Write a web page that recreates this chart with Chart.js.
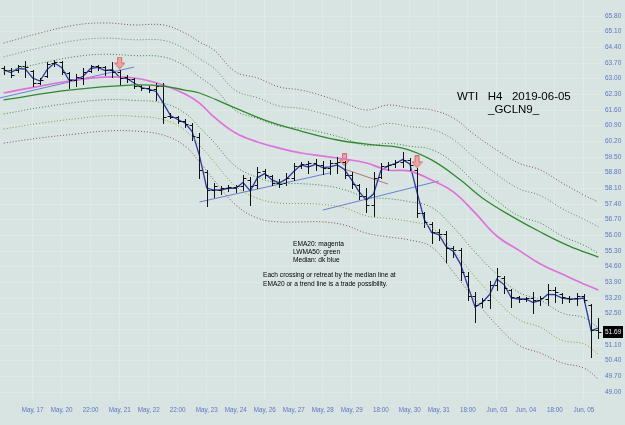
<!DOCTYPE html>
<html><head><meta charset="utf-8">
<script src="https://cdn.jsdelivr.net/npm/chart.js@4.4.1/dist/chart.umd.min.js"></script>
<style>html,body{margin:0;padding:0;background:#d8e4e1;}canvas{display:block;}</style>
</head><body>
<canvas id="c" width="625" height="425"></canvas>
<script>
// ---- data ----
const xTickIndex = [4,8,12,16,20,24,28,32,36,40,44,48,52,56,60,64,68,72,76,80];
const xTickLabels = ["May, 17","May, 20","22:00","May, 21","May, 22","22:00","May, 23","May, 24","May, 26","May, 27","May, 28","May, 29","18:00","May, 30","May, 31","18:00","Jun, 03","Jun, 04","18:00","Jun, 05"];
const yTicks = [49.00,49.70,50.40,51.10,51.80,52.50,53.20,53.90,54.60,55.30,56.00,56.70,57.40,58.10,58.80,59.50,60.20,60.90,61.60,62.30,63.00,63.70,64.40,65.10,65.80];

const opens  = [63.48,63.39,63.39,63.57,63.34,62.81,63.12,63.70,63.74,63.25,62.94,63.03,63.34,63.57,63.52,63.39,63.30,63.07,62.99,62.67,62.58,62.54,62.67,61.33,61.29,61.11,60.93,60.39,58.83,58.03,58.03,58.11,58.16,58.20,58.47,58.25,58.87,58.65,58.34,58.34,58.56,59.10,59.19,59.23,59.14,59.01,59.23,59.28,58.70,58.25,57.76,57.36,58.61,59.10,59.19,59.28,59.37,58.92,57.00,56.51,56.15,56.06,55.43,55.34,54.18,53.29,52.98,53.11,53.78,54.09,53.56,53.24,53.16,53.20,53.11,53.16,53.56,53.38,53.20,53.20,53.29,52.89,51.77];
const highs  = [63.57,63.48,63.61,63.79,63.39,63.03,63.74,63.83,63.79,63.30,63.21,63.48,63.61,63.61,63.57,63.74,63.39,63.16,63.03,62.72,62.67,62.81,62.81,61.47,61.33,61.20,61.02,60.57,58.92,58.34,58.20,58.25,58.25,58.70,58.61,59.05,58.96,58.70,58.52,58.79,59.23,59.28,59.32,59.41,59.32,59.37,59.50,59.32,58.83,58.29,58.11,58.83,59.23,59.28,59.37,59.72,59.46,59.01,57.04,56.60,56.28,56.19,55.52,55.43,54.36,53.47,53.20,53.96,54.54,54.18,53.60,53.29,53.24,53.47,53.29,53.83,53.69,53.42,53.29,53.42,53.38,52.93,52.31];
const lows   = [63.21,63.07,63.30,63.07,62.67,62.76,63.07,63.57,63.21,62.58,62.67,62.76,63.30,63.39,63.16,63.07,62.72,62.85,62.58,62.49,62.40,62.05,61.02,61.24,61.02,60.84,60.26,58.56,57.31,57.71,57.85,57.98,57.94,58.03,57.36,58.11,58.56,58.25,58.16,58.25,58.47,59.01,58.79,58.92,58.74,58.74,58.79,58.56,58.11,57.62,57.04,56.86,58.56,58.92,59.05,59.05,58.92,56.82,56.37,55.66,55.79,54.81,55.03,54.00,53.11,52.13,52.80,52.75,53.56,53.42,52.80,53.02,53.07,52.53,52.89,52.89,53.02,52.98,53.02,52.89,53.02,50.56,51.41];
const closes = [63.39,63.16,63.57,63.52,62.81,62.94,63.66,63.74,63.30,62.94,63.07,63.30,63.57,63.52,63.39,63.30,63.03,62.99,62.67,62.58,62.49,62.67,61.29,61.29,61.11,60.97,60.44,58.92,58.03,58.20,58.11,58.16,58.20,58.56,58.20,58.83,58.70,58.34,58.29,58.56,59.10,59.19,59.23,59.14,59.01,59.23,59.28,58.70,58.29,57.76,57.36,58.56,59.10,59.14,59.28,59.37,59.14,57.00,56.60,56.15,56.06,55.43,55.34,54.36,53.29,52.89,53.11,53.78,54.18,53.65,53.24,53.16,53.20,53.11,53.20,53.56,53.47,53.24,53.16,53.29,53.11,51.77,51.69];

const bandIndex  = [0,5,10,14,18,22,25,27,29,32,35,38,41,44,47,50,53,56,59,62,65,68,71,74,77,80,82];
const ema20      = [62.36,62.67,62.94,63.07,63.03,62.72,62.31,61.91,61.29,60.57,60.17,59.90,59.68,59.54,59.41,59.23,58.92,58.87,58.47,57.94,57.00,55.97,55.34,54.72,54.27,53.83,53.56];
const upperOuter = [64.59,65.04,65.40,65.49,65.40,65.40,65.04,64.64,64.28,63.30,63.03,62.63,62.49,62.23,61.91,61.60,61.82,61.69,61.60,61.24,60.48,59.81,59.23,58.92,58.34,57.80,57.49];
const upperMid   = [63.97,64.38,64.71,64.81,64.74,64.71,64.33,63.89,63.47,62.47,62.15,61.78,61.67,61.44,61.15,60.83,61.00,60.86,60.74,60.28,59.45,58.72,58.09,57.78,57.19,56.72,56.38];
const upperInner = [63.30,63.68,63.99,64.09,64.03,63.97,63.57,63.08,62.60,61.57,61.22,60.88,60.78,60.59,60.33,60.01,60.11,59.98,59.83,59.25,58.35,57.55,56.87,56.55,55.97,55.56,55.20];
const lowerInner = [61.42,61.71,61.94,62.06,62.03,61.91,61.46,60.83,60.16,59.08,58.59,58.34,58.31,58.23,58.04,57.70,57.64,57.50,57.25,56.36,55.25,54.26,53.46,53.11,52.53,52.32,51.87];
const lowerMid   = [60.75,61.01,61.21,61.34,61.32,61.17,60.70,60.03,59.29,58.19,57.65,57.44,57.42,57.38,57.23,56.87,56.75,56.62,56.34,55.33,54.14,53.09,52.24,51.89,51.31,51.15,50.69];
const lowerOuter = [60.12,60.35,60.53,60.66,60.66,60.48,59.99,59.28,58.47,57.36,56.77,56.60,56.60,56.60,56.46,56.10,55.93,55.79,55.48,54.36,53.11,51.99,51.10,50.74,50.30,50.07,49.58];

const lwmaIndex = [0,9,18,22,25,27,31,36,41,46,51,55,59,63,66,70,74,78,82];
const lwma50    = [62.05,62.49,62.72,62.67,62.49,62.36,61.82,61.15,60.66,60.26,60.04,59.90,59.37,58.47,57.67,56.86,56.15,55.52,55.03];

const trendLine1 = [[-0.5,62.14],[18,63.52]];
const trendLine2 = [[27,57.49],[45,58.79]];
const trendLine3 = [[44,57.13],[60,58.43]];
const trendLine4 = [[47,58.96],[53,58.29]];

const arrowIndex = [16,47,57];
const arrowPrice = [63.70,59.37,59.28];
const lastPrice = 51.69;

const titleText = "WTI   H4   2019-06-05";
const symbolText = "_GCLN9_";
const legendLines = ["EMA20: magenta","LWMA50: green","Median: dk blue"];
const noteLines = ["Each crossing or retreat by the median line at","EMA20 or a trend line is a trade possibility."];

// ---- helpers ----
const pts = (ix, vals) => ix.map((v,k)=>({x:v,y:vals[k]}));
const medianPts = highs.map((h,i)=>({x:i,y:(h+lows[i])/2}));
const tl = a => a.map(p=>({x:p[0],y:p[1]}));

function makeArrow(){
  const c=document.createElement('canvas'); c.width=11; c.height=13;
  const g=c.getContext('2d');
  g.beginPath(); g.moveTo(3.5,0.5); g.lineTo(7.5,0.5); g.lineTo(7.5,6.5); g.lineTo(10.5,6.5); g.lineTo(5.5,12.5); g.lineTo(0.5,6.5); g.lineTo(3.5,6.5); g.closePath();
  g.fillStyle='#f3a2a2'; g.fill(); g.strokeStyle='#c87070'; g.lineWidth=1; g.stroke();
  return c;
}
const arrowImg = makeArrow();

const FONT = "'Liberation Sans', Arial, sans-serif";
Chart.defaults.font.family = FONT;

const band = (data,color)=>({type:'line',data,borderColor:color,borderWidth:1,borderDash:[1,2],pointRadius:0,tension:0.4,fill:false});
const EMA_DS = 7;

const bgPlugin = {id:'bg', beforeDraw(chart){const c=chart.ctx;c.save();c.fillStyle='#d8e4e1';c.fillRect(0,0,chart.width,chart.height);c.restore();}};

const ohlcPlugin = {
  id:'ohlc',
  afterDatasetDraw(chart,args){
    if(args.index!==EMA_DS) return;
    const ctx=chart.ctx, x=chart.scales.x, y=chart.scales.y;
    ctx.save(); ctx.strokeStyle='#111'; ctx.lineWidth=1; ctx.beginPath();
    for(let i=0;i<opens.length;i++){
      const px=Math.round(x.getPixelForValue(i))+0.5;
      const yh=Math.round(y.getPixelForValue(highs[i])), yl=Math.round(y.getPixelForValue(lows[i]));
      const yo=Math.round(y.getPixelForValue(opens[i]))+0.5, yc=Math.round(y.getPixelForValue(closes[i]))+0.5;
      ctx.moveTo(px,yh); ctx.lineTo(px,yl+1);
      ctx.moveTo(px-3,yo); ctx.lineTo(px,yo);
      ctx.moveTo(px,yc); ctx.lineTo(px+3,yc);
    }
    ctx.stroke(); ctx.restore();
  }
};

const textPlugin = {
  id:'texts',
  afterDraw(chart){
    const ctx=chart.ctx, y=chart.scales.y;
    ctx.save();
    ctx.fillStyle='#000'; ctx.textBaseline='middle'; ctx.textAlign='left';
    ctx.font='11.5px '+FONT;
    ctx.fillText(titleText,457,97);
    ctx.fillText(symbolText,488,110);
    ctx.font='6.6px '+FONT;
    legendLines.forEach((t,k)=>ctx.fillText(t,293,244+k*8));
    noteLines.forEach((t,k)=>ctx.fillText(t,263,275+k*9.5));
    const py=Math.round(y.getPixelForValue(lastPrice));
    ctx.fillStyle='#000'; ctx.fillRect(603,py-6,20,12);
    ctx.fillStyle='#f0f0f0'; ctx.font='6.5px '+FONT; ctx.fillText(lastPrice.toFixed(2),605,py+0.5);
    ctx.restore();
  }
};

new Chart(document.getElementById('c'),{
  data:{datasets:[
    band(pts(bandIndex,upperOuter),'#8a5252'),
    band(pts(bandIndex,upperMid),'#6f8a62'),
    band(pts(bandIndex,upperInner),'#3c8a3c'),
    band(pts(bandIndex,lowerInner),'#3c8a3c'),
    band(pts(bandIndex,lowerMid),'#8d9a3c'),
    band(pts(bandIndex,lowerOuter),'#8a5252'),
    {type:'line',data:pts(lwmaIndex,lwma50),borderColor:'#2f8a2f',borderWidth:1.3,pointRadius:0,tension:0.4},
    {type:'line',data:pts(bandIndex,ema20),borderColor:'#e070dc',borderWidth:1.7,pointRadius:0,tension:0.4},
    {type:'line',data:medianPts,borderColor:'#2a3aa8',borderWidth:1.3,pointRadius:0,tension:0},
    {type:'line',data:tl(trendLine1),borderColor:'#6c7fd8',borderWidth:1,pointRadius:0},
    {type:'line',data:tl(trendLine2),borderColor:'#6c7fd8',borderWidth:1,pointRadius:0},
    {type:'line',data:tl(trendLine3),borderColor:'#6c7fd8',borderWidth:1,pointRadius:0},
    {type:'line',data:tl(trendLine4),borderColor:'#b07878',borderWidth:1,pointRadius:0},
    {type:'scatter',data:pts(arrowIndex,arrowPrice),pointStyle:arrowImg,pointRadius:6,showLine:false}
  ]},
  options:{
    responsive:false, animation:false, devicePixelRatio:1,
    layout:{padding:0,autoPadding:false},
    plugins:{legend:{display:false},tooltip:{enabled:false}},
    scales:{
      x:{type:'linear',min:-0.5,max:82.5,
        afterBuildTicks(s){s.ticks=xTickIndex.map(v=>({value:v}));},
        afterFit(s){s.height=25;s.paddingLeft=0;s.paddingRight=0;},
        ticks:{autoSkip:false,maxRotation:0,padding:6,color:'#5c76c6',font:{size:6.3},callback:(v,k)=>xTickLabels[k]},
        grid:{color:'rgba(238,246,244,0.35)',drawTicks:false},border:{display:false}},
      y:{type:'linear',position:'right',min:48.643,max:66.515,
        afterBuildTicks(s){s.ticks=yTicks.map(v=>({value:v}));},
        afterFit(s){s.width=23;s.paddingTop=0;s.paddingBottom=0;},
        ticks:{padding:3,color:'#5c76c6',font:{size:6.5},callback:v=>v.toFixed(2)},
        grid:{color:'rgba(238,246,244,0.35)',drawTicks:false},border:{display:false}}
    }
  },
  plugins:[bgPlugin,ohlcPlugin,textPlugin]
});
</script>
</body></html>
